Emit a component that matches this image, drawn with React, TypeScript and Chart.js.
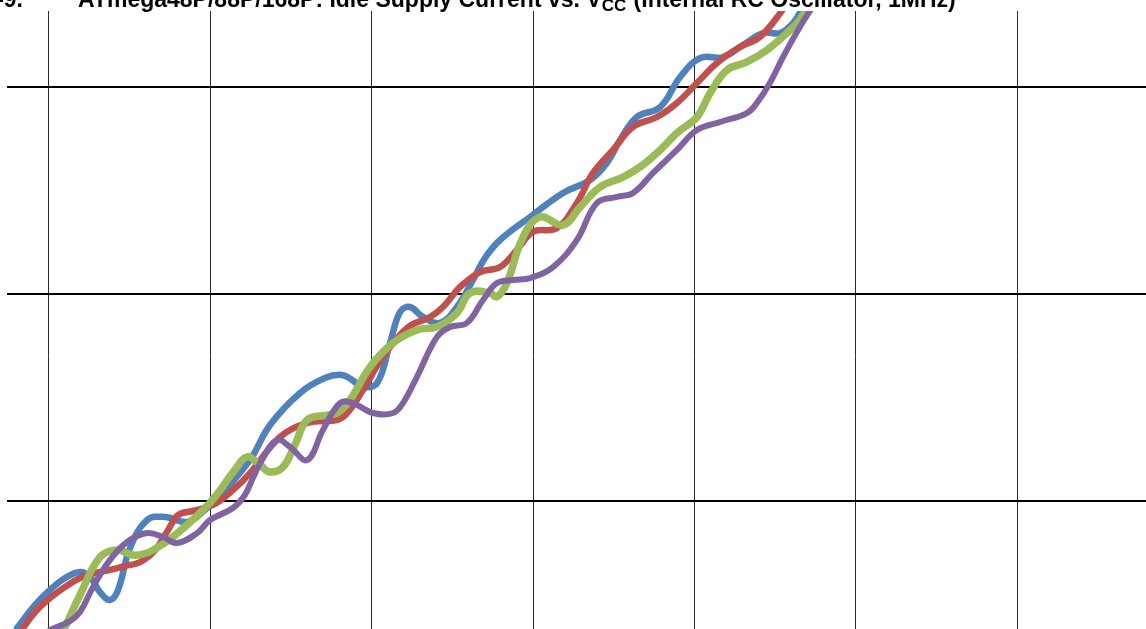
import React, { useEffect, useRef } from "react";
import { Chart, registerables } from "chart.js";

Chart.register(...registerables);

// ---- Data (Vcc in V, idle supply current in mA) ----
const xTicks = [1.5, 2.0, 2.5, 3.0, 3.5, 4.0, 4.5, 5.0];
const yTicks = [0.1, 0.2, 0.3];

const titlePrefix = "Figure 28-9.";
const titleMain = "ATmega48P/88P/168P: Idle Supply Current vs. V";
const titleSub = "CC";
const titleEnd = " (Internal RC Oscillator, 1MHz)";

const blueV = [1.401,1.457,1.503,1.550,1.596,1.627,1.658,1.689,1.714,1.751,1.804,1.860,1.928,1.983,2.045,2.123,2.185,2.278,2.355,2.408,2.439,2.473,2.517,2.557,2.588,2.619,2.659,2.712,2.764,2.814,2.851,2.898,2.991,3.093,3.177,3.229,3.270,3.322,3.394,3.456,3.518,3.589,3.651,3.713,3.766,3.806,3.837,3.858];
const blueI = [0.0386,0.0498,0.0570,0.0628,0.0657,0.0633,0.0560,0.0522,0.0570,0.0773,0.0908,0.0923,0.0899,0.0957,0.1053,0.1198,0.1367,0.1522,0.1594,0.1609,0.1585,0.1551,0.1570,0.1763,0.1913,0.1937,0.1889,0.1860,0.1937,0.2068,0.2174,0.2261,0.2372,0.2488,0.2551,0.2633,0.2744,0.2855,0.2903,0.3048,0.3140,0.3145,0.3203,0.3261,0.3261,0.3309,0.3386,0.3444];

const redV = [1.419,1.457,1.503,1.550,1.596,1.643,1.689,1.736,1.782,1.829,1.869,1.900,1.946,2.008,2.070,2.123,2.216,2.300,2.355,2.393,2.424,2.473,2.535,2.610,2.681,2.721,2.774,2.836,2.898,2.950,3.000,3.074,3.136,3.186,3.248,3.310,3.384,3.446,3.508,3.570,3.641,3.703,3.766,3.796];
const redI = [0.0386,0.0464,0.0531,0.0585,0.0628,0.0652,0.0667,0.0686,0.0705,0.0763,0.0860,0.0932,0.0952,0.0981,0.1053,0.1135,0.1309,0.1377,0.1386,0.1391,0.1425,0.1536,0.1696,0.1836,0.1889,0.1937,0.2034,0.2106,0.2130,0.2213,0.2300,0.2319,0.2440,0.2585,0.2696,0.2807,0.2855,0.2923,0.3019,0.3116,0.3193,0.3242,0.3357,0.3435];

const greenV = [1.546,1.596,1.658,1.711,1.760,1.804,1.844,1.884,1.968,2.014,2.076,2.114,2.154,2.185,2.225,2.262,2.300,2.362,2.393,2.433,2.495,2.566,2.640,2.702,2.764,2.805,2.867,2.888,2.919,2.969,3.022,3.093,3.146,3.208,3.279,3.332,3.394,3.446,3.508,3.549,3.601,3.663,3.725,3.787,3.827,3.865];
const greenI = [0.0377,0.0546,0.0729,0.0763,0.0739,0.0749,0.0783,0.0826,0.0942,0.1019,0.1150,0.1213,0.1174,0.1140,0.1164,0.1271,0.1391,0.1415,0.1425,0.1488,0.1647,0.1763,0.1826,0.1841,0.1908,0.2005,0.2005,0.1986,0.2053,0.2275,0.2372,0.2333,0.2420,0.2517,0.2565,0.2614,0.2696,0.2778,0.2855,0.2971,0.3082,0.3121,0.3179,0.3261,0.3324,0.3430];

const purpleV = [1.503,1.565,1.596,1.627,1.658,1.689,1.742,1.804,1.853,1.897,1.959,1.999,2.070,2.107,2.132,2.160,2.207,2.247,2.300,2.349,2.402,2.442,2.504,2.566,2.597,2.640,2.702,2.743,2.795,2.845,2.888,2.938,2.991,3.062,3.136,3.198,3.260,3.310,3.372,3.446,3.508,3.580,3.663,3.694,3.734,3.775,3.827,3.880];
const purpleI = [0.0377,0.0420,0.0464,0.0556,0.0643,0.0715,0.0802,0.0845,0.0826,0.0797,0.0845,0.0908,0.0966,0.1029,0.1111,0.1198,0.1295,0.1261,0.1198,0.1343,0.1473,0.1473,0.1425,0.1425,0.1473,0.1599,0.1792,0.1841,0.1860,0.1971,0.2053,0.2068,0.2077,0.2130,0.2261,0.2440,0.2469,0.2488,0.2585,0.2696,0.2792,0.2831,0.2874,0.2923,0.3019,0.3145,0.3290,0.3420];

// ---- Layout constants ----
const CANVAS_W = 1200;
const CANVAS_H = 700;
const PAD_LEFT = 7;
const PAD_TOP = 11;
const PX_PER_V = 322.67;
const PX_PER_MA = 2070;
const X_MIN = 1.5 - (49 - PAD_LEFT) / PX_PER_V;
const X_MAX = X_MIN + (CANVAS_W - PAD_LEFT) / PX_PER_V;
const Y_MAX = 0.3 + (87 - PAD_TOP) / PX_PER_MA;
const Y_MIN = Y_MAX - (CANVAS_H - PAD_TOP) / PX_PER_MA;

const TITLE_FONT = '"Liberation Sans", Arial, sans-serif';
const TITLE_SIZE = 23;

const zip = (xs: number[], ys: number[]) => xs.map((x, i) => ({ x, y: ys[i] }));

const titlePlugin = {
  id: "pageTitle",
  afterDraw(chart: any) {
    const ctx = chart.ctx;
    ctx.save();
    ctx.fillStyle = "#000";
    ctx.textBaseline = "alphabetic";
    const base = 7;
    ctx.font = `bold ${TITLE_SIZE}px ${TITLE_FONT}`;
    ctx.textAlign = "right";
    ctx.fillText(titlePrefix, 23, base);
    ctx.textAlign = "left";
    let x = 78;
    ctx.fillText(titleMain, x, base);
    x += ctx.measureText(titleMain).width;
    ctx.font = `bold ${Math.round(TITLE_SIZE * 0.72)}px ${TITLE_FONT}`;
    ctx.fillText(titleSub, x, base + 4);
    x += ctx.measureText(titleSub).width + 1;
    ctx.font = `bold ${TITLE_SIZE}px ${TITLE_FONT}`;
    ctx.fillText(titleEnd, x, base);
    ctx.restore();
  },
};

export default function App() {
  const ref = useRef<HTMLCanvasElement | null>(null);

  useEffect(() => {
    if (!ref.current) return;
    const mk = (label: string, xs: number[], ys: number[], color: string, width: number, order: number) => ({
      label,
      data: zip(xs, ys),
      borderColor: color,
      backgroundColor: color,
      borderWidth: width,
      pointRadius: 0,
      tension: 0.4,
      fill: false,
      clip: 0,
      order,
      borderCapStyle: "round" as const,
      borderJoinStyle: "round" as const,
    });
    const chart = new Chart(ref.current, {
      type: "line",
      data: {
        datasets: [
          mk("Series 1", blueV, blueI, "#4F81BD", 6.5, 3),
          mk("Series 2", redV, redI, "#C0504D", 6.5, 2),
          mk("Series 3", greenV, greenI, "#9BBB59", 7.5, 1),
          mk("Series 4", purpleV, purpleI, "#8064A2", 6, 0),
        ],
      },
      options: {
        animation: false,
        responsive: false,
        devicePixelRatio: 1,
        layout: { padding: { left: PAD_LEFT, top: PAD_TOP, right: 0, bottom: 0 } },
        plugins: { legend: { display: false }, tooltip: { enabled: false }, title: { display: false } },
        scales: {
          x: {
            type: "linear",
            min: X_MIN,
            max: X_MAX,
            afterBuildTicks: (scale: any) => {
              scale.ticks = xTicks.map((v) => ({ value: v }));
            },
            ticks: { display: false },
            border: { display: false },
            grid: { color: "#2a2a2a", lineWidth: 1, drawTicks: false },
          },
          y: {
            type: "linear",
            min: Y_MIN,
            max: Y_MAX,
            afterBuildTicks: (scale: any) => {
              scale.ticks = yTicks.map((v) => ({ value: v }));
            },
            ticks: { display: false },
            border: { display: false },
            grid: { color: "#000", lineWidth: 2, drawTicks: false },
          },
        },
      },
      plugins: [titlePlugin],
    });
    return () => chart.destroy();
  }, []);

  return (
    <div
      style={{
        position: "fixed",
        top: 0,
        left: 0,
        width: 1146,
        height: 629,
        overflow: "hidden",
        background: "#fff",
      }}
    >
      <canvas ref={ref} width={CANVAS_W} height={CANVAS_H} style={{ display: "block" }} />
    </div>
  );
}
